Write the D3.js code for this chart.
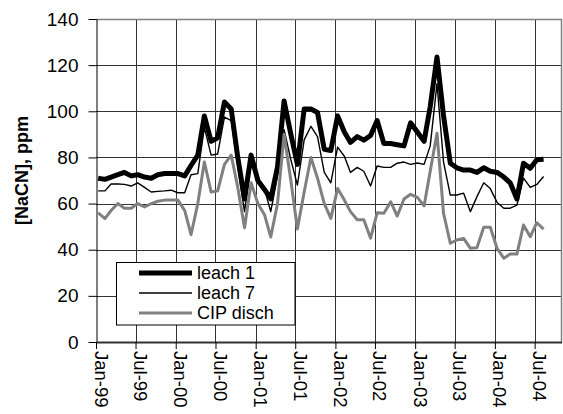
<!DOCTYPE html>
<html>
<head>
<meta charset="utf-8">
<script src="https://cdn.jsdelivr.net/npm/d3@7"></script>
<style>
  body { margin: 0; background: #fff; }
  text { font-family: "Liberation Sans", Arial, Helvetica, sans-serif; fill: #000; }
</style>
</head>
<body>
<svg id="chart" width="563" height="414"></svg>
<script>
// Monthly NaCN readings, Jan-99 .. Aug-04 (ppm)
const firstMonth = "1999-01";
const leach1 = [
  71, 70.5, 71.5, 72.5, 73.5, 72, 72.5, 71.5, 71, 72.5, 73, 73,
  73, 72, 76.5, 81, 98, 87, 88.5, 104, 101, 80, 62, 81,
  70, 66, 62, 76, 104.5, 90, 77, 101, 101, 99.5, 83.5, 83,
  98, 91, 86.5, 89, 87.5, 89.5, 96, 86, 86, 85.5, 85, 95,
  91, 87, 102, 123.5, 98, 77.5, 75.5, 74.5, 74.5, 73.5, 75.5, 74,
  73.5, 71.5, 69, 62, 77.5, 75.3, 79, 79.2
];
const leach7 = [
  65.5, 65.5, 68.5, 68.5, 68.3, 67.6, 69, 67, 65, 65.3, 65.5, 65.8,
  64.7, 64.7, 72.5, 73, 93, 81, 81.5, 97.5, 96, 76, 56.5, 78,
  69, 66, 56.5, 72, 92, 79, 68, 87.6, 93.5, 89, 73.5, 69,
  84.5, 80.5, 73.5, 75.7, 74, 67.6, 76.3, 75.7, 75.7, 77.5, 78, 77,
  77.6, 77, 85, 112, 78, 63.7, 63.7, 64.5, 56.5, 63, 69, 66.5,
  60.5, 58, 58, 59.3, 71, 67, 68.3, 71.7
];
const cipDisch = [
  56, 53.5, 57, 60, 58, 58, 60, 58.5, 60, 61, 61.5, 61.5,
  61.5, 57, 46.5, 60, 78, 65, 65.5, 77, 81, 67, 49.5, 69,
  60, 55, 45.5, 60, 90, 70, 49, 65, 80, 71, 60, 53.6,
  66.5, 61.5, 56.5, 53, 53, 45, 56, 55.8, 60.8, 54.6, 62, 64,
  62.7, 59, 74, 90.5, 55.8, 42.8, 44.2, 44.9, 40.6, 40.9, 49.7, 49.7,
  40.6, 36.3, 38.1, 38.1, 50.7, 45.6, 51.7, 48.9
];
const seriesNames = ["leach 1", "leach 7", "CIP disch"];
const yTicks = [0, 20, 40, 60, 80, 100, 120, 140];
const axisStart = "1999-01-01";
const axisEnd = "2004-11-01";
const sampleDay = 11; // samples are logged around the 11th of each month

const parseMonth = d3.timeParse("%Y-%m");
const parseDay = d3.timeParse("%Y-%m-%d");
const start = parseMonth(firstMonth);
const dates = leach1.map((_, i) => {
  const d = d3.timeMonth.offset(start, i);
  return d3.timeDay.offset(d, sampleDay - 1);
});

const svg = d3.select("#chart");
const plot = { left: 96, right: 561.5, top: 19, bottom: 342 };

const x = d3.scaleTime()
  .domain([parseDay(axisStart), parseDay(axisEnd)])
  .range([plot.left, plot.right]);
const y = d3.scaleLinear()
  .domain([0, 140])
  .range([plot.bottom, plot.top]);

const xTicks = d3.timeMonth.every(6).range(parseDay(axisStart), parseDay(axisEnd));
const fmt = d3.timeFormat("%b-%y");

// gridlines
const grid = svg.append("g");
grid.selectAll("line.h").data(yTicks.slice(1)).join("line")
  .attr("x1", plot.left).attr("x2", plot.right)
  .attr("y1", d => Math.round(y(d)) + 0.5).attr("y2", d => Math.round(y(d)) + 0.5)
  .attr("stroke", "#333").attr("stroke-width", 1);
grid.selectAll("line.v").data(xTicks.slice(1)).join("line")
  .attr("x1", d => Math.round(x(d)) + 0.5).attr("x2", d => Math.round(x(d)) + 0.5)
  .attr("y1", plot.top).attr("y2", plot.bottom)
  .attr("stroke", "#333").attr("stroke-width", 1);

// plot frame (top and right)
svg.append("path")
  .attr("d", `M${plot.left},${plot.top + 0.5}H${plot.right}V${plot.bottom}`)
  .attr("fill", "none").attr("stroke", "#808080").attr("stroke-width", 1.5);

// y axis
const yAxis = d3.axisLeft(y).tickValues(yTicks).tickSize(8).tickSizeOuter(0).tickPadding(10);
const gy = svg.append("g").attr("transform", `translate(${plot.left + 0.5},0)`).call(yAxis);
gy.selectAll("text").style("font-size", "19px").attr("fill", "#000");
gy.selectAll("line, path").attr("stroke", "#000");

// x axis
const xAxis = d3.axisBottom(x).tickValues(xTicks).tickSize(7).tickSizeOuter(0).tickFormat(fmt);
const gx = svg.append("g").attr("transform", `translate(0,${plot.bottom})`).call(xAxis);
gx.select("path.domain").attr("stroke", "#333").attr("stroke-width", 2);
gx.selectAll("line").attr("stroke", "#000");
gx.selectAll("text")
  .style("font-size", "18.5px")
  .attr("fill", "#000")
  .attr("text-anchor", "start")
  .attr("transform", "translate(-2,9) rotate(90)")
  .attr("x", 0).attr("y", 0).attr("dy", 0);

// y axis title
svg.append("text")
  .attr("transform", `translate(28,${(plot.top + plot.bottom) / 2 - 10}) rotate(-90)`)
  .attr("text-anchor", "middle")
  .style("font-size", "18px").style("font-weight", "bold")
  .text("[NaCN], ppm");

// series
const styles = [
  { data: leach1, color: "#000", width: 5 },
  { data: leach7, color: "#000", width: 1.4 },
  { data: cipDisch, color: "#808080", width: 3 }
];
const line = d3.line().x((d, i) => x(dates[i])).y(d => y(d));
styles.forEach(s => {
  svg.append("path")
    .datum(s.data)
    .attr("d", line)
    .attr("fill", "none")
    .attr("stroke", s.color)
    .attr("stroke-width", s.width)
    .attr("stroke-linejoin", "round");
});

// legend
const lg = svg.append("g");
lg.append("rect")
  .attr("x", 116.5).attr("y", 262.5).attr("width", 178.5).attr("height", 62.5)
  .attr("fill", "#fff").attr("stroke", "#000").attr("stroke-width", 1);
seriesNames.forEach((name, i) => {
  const cy = 273 + i * 20;
  lg.append("line")
    .attr("x1", 139).attr("x2", 192).attr("y1", cy).attr("y2", cy)
    .attr("stroke", styles[i].color).attr("stroke-width", styles[i].width);
  lg.append("text")
    .attr("x", 197).attr("y", cy).attr("dy", "0.36em")
    .style("font-size", "18px")
    .text(name);
});
</script>
</body>
</html>
